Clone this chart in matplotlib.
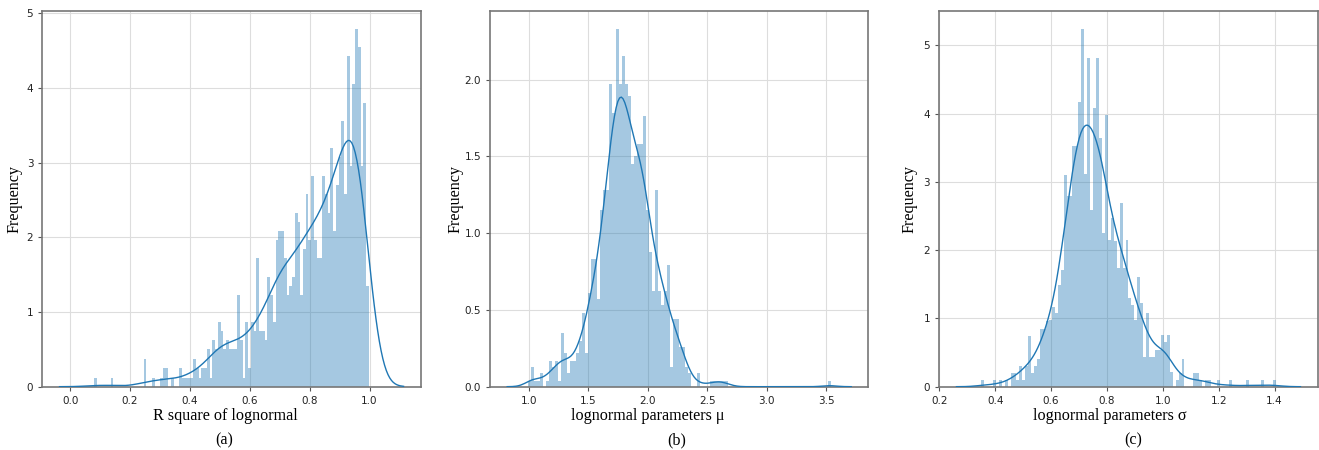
import numpy as np
import matplotlib
matplotlib.use('Agg')
import matplotlib.pyplot as plt

# histogram densities (100 equal bins per panel)
r2_range = (0.080, 0.998)
r2_density = [
    0.12, 0, 0, 0, 0, 0, 0.12, 0, 0, 0,
    0, 0, 0, 0, 0, 0, 0, 0, 0.37, 0,
    0, 0.12, 0, 0, 0.12, 0.25, 0.25, 0, 0.12, 0,
    0, 0.25, 0.12, 0.12, 0.12, 0.12, 0.37, 0.25, 0.12, 0.25,
    0.25, 0.50, 0.12, 0.62, 0.50, 0.86, 0.74, 0.50, 0.62, 0.50,
    0.50, 0.50, 1.23, 0.62, 0.12, 0.86, 0.25, 0.86, 0.74, 1.72,
    0.74, 0.74, 0.62, 1.47, 1.23, 0.86, 1.96, 2.09, 2.09, 1.72,
    1.23, 1.35, 1.47, 2.33, 2.21, 1.23, 1.84, 2.58, 1.96, 2.82,
    1.96, 1.72, 1.72, 2.82, 2.58, 2.33, 3.19, 2.09, 2.70, 3.07,
    3.56, 2.58, 4.42, 2.95, 4.05, 4.79, 4.55, 2.95, 3.80, 1.35,
]

mu_range = (0.989, 3.540)
mu_density = [
    0.04, 0.13, 0.04, 0.04, 0.09, 0, 0.04, 0.17, 0.13, 0.17,
    0.04, 0.35, 0.22, 0.09, 0.17, 0.17, 0.22, 0.30, 0.48, 0.22,
    0.61, 0.83, 0.83, 0.57, 1.15, 1.28, 1.28, 1.97, 1.78, 2.33,
    1.97, 2.15, 1.97, 1.89, 1.45, 1.50, 1.58, 1.58, 1.76, 1.15,
    0.88, 0.62, 1.28, 0.62, 0.53, 0.62, 0.79, 0.13, 0.44, 0.44,
    0.26, 0.26, 0.13, 0.09, 0, 0, 0.09, 0, 0, 0,
    0.04, 0.04, 0.04, 0.04, 0.04, 0.04, 0, 0, 0, 0,
    0, 0, 0, 0, 0, 0, 0, 0, 0, 0,
    0, 0, 0, 0, 0, 0, 0, 0, 0, 0,
    0, 0, 0, 0, 0, 0, 0, 0, 0, 0.04,
]

sigma_range = (0.3495, 1.405)
sigma_density = [
    0.10, 0, 0, 0, 0.10, 0, 0.10, 0, 0.10, 0,
    0.20, 0.20, 0.10, 0.31, 0.10, 0.31, 0.74, 0.20, 0.31, 0.41,
    0.84, 0.84, 0.96, 0.98, 1.17, 1.08, 1.49, 1.71, 3.10, 2.79,
    2.79, 3.53, 3.53, 4.17, 5.24, 3.12, 4.81, 2.58, 4.08, 4.81,
    3.64, 2.25, 3.98, 2.15, 2.47, 2.13, 1.74, 2.69, 1.74, 2.15,
    1.30, 1.20, 0.98, 1.61, 1.22, 0.44, 1.08, 0.44, 0.44, 0.54,
    0.54, 0.76, 0.66, 0.76, 0.22, 0, 0.10, 0.20, 0.41, 0,
    0, 0, 0.20, 0.20, 0.10, 0, 0.10, 0.10, 0, 0,
    0.10, 0, 0, 0, 0.10, 0, 0, 0, 0, 0,
    0.10, 0, 0, 0, 0, 0.10, 0, 0, 0, 0.10,
]

xlabels = ['R square of lognormal', 'lognormal parameters \u03bc', 'lognormal parameters \u03c3']
captions = ['(a)', '(b)', '(c)']

BLUE = '#1f77b4'
SERIF = ['Liberation Serif', 'DejaVu Serif']


def kde_curve(lo, hi, dens, gridsize=200):
    # gaussian kde (scott bandwidth) rebuilt from the binned counts
    dens = np.asarray(dens, float)
    edges = np.linspace(lo, hi, len(dens) + 1)
    centers = (edges[:-1] + edges[1:]) / 2
    q = dens[dens > 0].min()
    counts = np.round(dens / q)
    n = counts.sum()
    mean = np.average(centers, weights=counts)
    std = np.sqrt(np.average((centers - mean) ** 2, weights=counts))
    bw = std * n ** (-1 / 5)
    used = centers[counts > 0]
    x = np.linspace(used.min() - 3 * bw, used.max() + 3 * bw, gridsize)
    z = (x[:, None] - centers[None, :]) / bw
    y = (counts * np.exp(-0.5 * z ** 2)).sum(1) / (n * bw * np.sqrt(2 * np.pi))
    return x, y


panels = [
    (r2_range, r2_density, 0.0321, -0.052, 0.484, 0.481),
    (mu_range, mu_density, 0.3715, -0.0706, 0.417, 0.492),
    (sigma_range, sigma_density, 0.7121, -0.058, 0.452, 0.513),
]

fig = plt.figure(figsize=(13.19, 4.5), dpi=100)

for k, (rng, dens, left, ylab_x, xlab_x, cap_x) in enumerate(panels):
    ax = fig.add_axes([left, 0.1407, 0.2869, 0.835])
    lo, hi = rng
    edges = np.linspace(lo, hi, len(dens) + 1)
    ax.bar(edges[:-1], dens, width=edges[1] - edges[0], align='edge',
           color=BLUE, alpha=0.4, linewidth=0, zorder=2)
    x, y = kde_curve(lo, hi, dens)
    ax.plot(x, y, color=BLUE, lw=1.0, zorder=3)
    ax.set_ylim(bottom=0)

    ax.grid(True, color='#dddddd', lw=0.8, zorder=0)
    ax.set_axisbelow(True)
    for s in ax.spines.values():
        s.set_color('#777777')
        s.set_linewidth(1.2)
    ax.tick_params(labelsize=7.5, length=3, width=0.8, color='#555555', labelcolor='#222222')

    ax.set_ylabel('Frequency', family=SERIF, fontsize=11.6)
    ax.yaxis.set_label_coords(ylab_x, 0.5)
    ax.set_xlabel(xlabels[k], family=SERIF, fontsize=11.6)
    ax.xaxis.set_label_coords(xlab_x, -0.057)
    ax.text(cap_x, -0.142, captions[k], transform=ax.transAxes, family=SERIF,
            fontsize=11.6, ha='center', va='center')

fig.savefig('out.png', dpi=100)
